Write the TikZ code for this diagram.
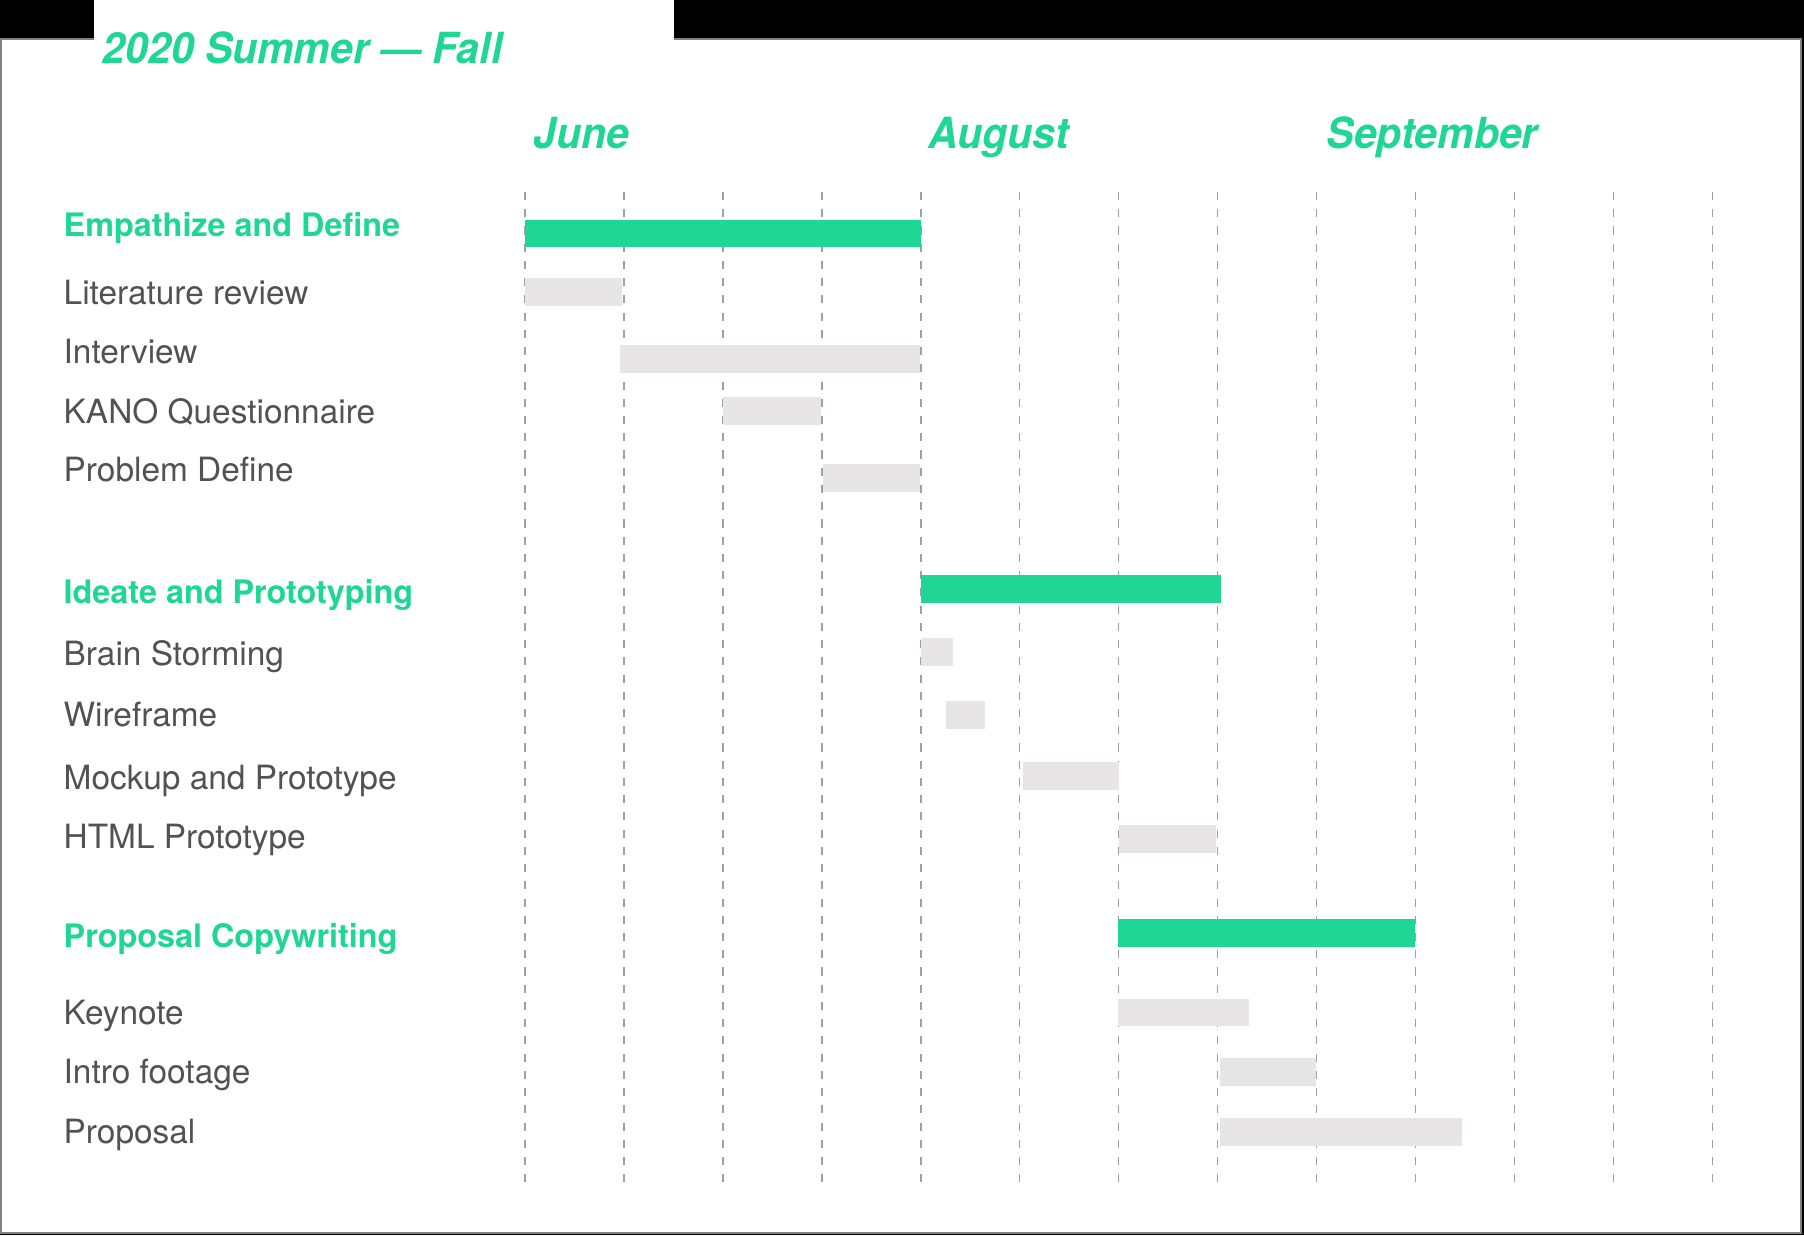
\documentclass[tikz,border=0pt]{standalone}
\usepackage{fontspec}
\setmainfont{TeX Gyre Heros}
\newfontfamily\tituloFonte{texgyreheros-bolditalic.otf}[FakeStretch=0.955]
\usepackage{tikz}
\usepackage{xcolor}

\definecolor{verde}{RGB}{32,214,148}
\definecolor{barra}{RGB}{231,229,230}
\definecolor{texto}{RGB}{82,82,82}
\definecolor{grade}{RGB}{160,160,160}
\definecolor{borda}{RGB}{130,130,130}

\begin{document}
\begin{tikzpicture}[x=0.01cm, y=-0.01cm,
    titulo/.style={anchor=base west, inner sep=0pt, text=verde,
        font=\tituloFonte\fontsize{12.2}{14}\selectfont},
    fase/.style={anchor=base west, inner sep=0pt, text=verde,
        font=\bfseries\fontsize{9.2}{11}\selectfont},
    tarefa/.style={anchor=base west, inner sep=0pt, text=texto,
        font=\fontsize{9.5}{11}\selectfont}]
            \useasboundingbox (0,0) rectangle (1804,1235);

            % fundo
            \fill[black] (0,0) rectangle (1804,1235);
            \filldraw[fill=white, draw=borda, line width=0.6pt] (1,39) rectangle (1801,1233);
            \fill[white] (94,0) rectangle (674,40);

            % linhas verticais
            \foreach \i in {0,...,12}
                \draw[grade, line width=0.4pt, dash pattern=on 2.3pt off 2.6pt]
                    (525+98.95*\i,192) -- (525+98.95*\i,1185);

            % titulo e meses
            \node[titulo] (tit) at (102,63) {2020 Summer — Fall};
            \node[titulo] (jun) at (533,148) {June};
            \node[titulo] (ago) at (928,148) {August};
            \node[titulo] (set) at (1326,148) {September};

            % fases
            \node[fase] (emp) at (63,236) {Empathize and Define};
            \node[fase] (ide) at (63,603) {Ideate and Prototyping};
            \node[fase] (prop) at (63,947) {Proposal Copywriting};

            % tarefas
            \node[tarefa] (lit) at (63,304) {Literature review};
            \node[tarefa] (ent) at (63,363) {Interview};
            \node[tarefa] (kano) at (63,423) {KANO Questionnaire};
            \node[tarefa] (prob) at (63,481) {Problem Define};
            \node[tarefa] (brain) at (63,665) {Brain Storming};
            \node[tarefa] (wire) at (63,726) {Wireframe};
            \node[tarefa] (mock) at (63,789) {Mockup and Prototype};
            \node[tarefa] (html) at (63,848) {HTML Prototype};
            \node[tarefa] (key) at (63,1024) {Keynote};
            \node[tarefa] (intro) at (63,1083) {Intro footage};
            \node[tarefa] (pro) at (63,1143) {Proposal};

            % barras das fases
            \fill[verde] (525,220) rectangle (921,247);
            \fill[verde] (921,575) rectangle (1221,603);
            \fill[verde] (1118,919) rectangle (1415,947);

            % barras das tarefas
            \fill[barra] (525,278) rectangle (622,306);
            \fill[barra] (620,345) rectangle (920,373);
            \fill[barra] (723,397) rectangle (821,425);
            \fill[barra] (823,464) rectangle (920,492);
            \fill[barra] (921,638) rectangle (953,666);
            \fill[barra] (946,701) rectangle (985,729);
            \fill[barra] (1023,762) rectangle (1119,790);
            \fill[barra] (1119,825) rectangle (1216,853);
            \fill[barra] (1118,999) rectangle (1249,1026);
            \fill[barra] (1220,1058) rectangle (1316,1086);
            \fill[barra] (1220,1118) rectangle (1462,1146);
        \end{tikzpicture}
\end{document}
